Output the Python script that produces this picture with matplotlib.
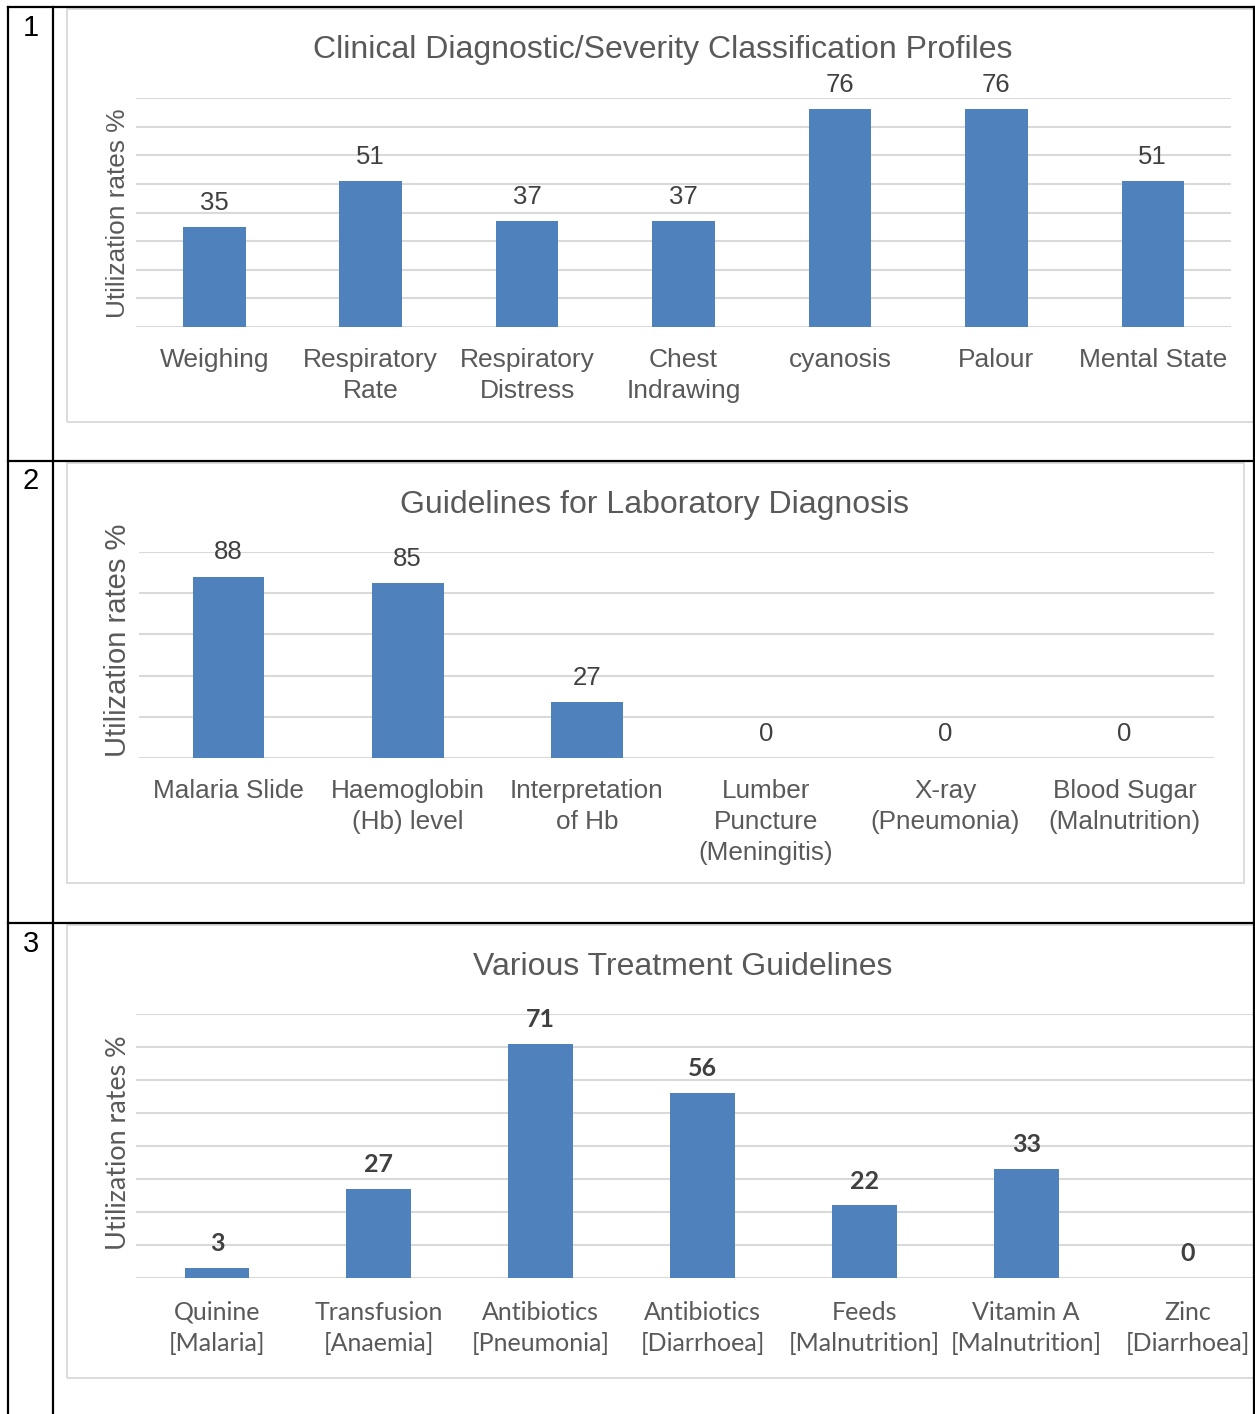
import matplotlib
matplotlib.use("Agg")
import matplotlib.pyplot as plt
from matplotlib.patches import Rectangle
from matplotlib.lines import Line2D

# --- data -------------------------------------------------------------
clinical_labels = ["Weighing", "Respiratory\nRate", "Respiratory\nDistress",
                   "Chest\nIndrawing", "cyanosis", "Palour", "Mental State"]
clinical_values = [35, 51, 37, 37, 76, 76, 51]

lab_labels = ["Malaria Slide", "Haemoglobin\n(Hb) level", "Interpretation\nof Hb",
              "Lumber\nPuncture\n(Meningitis)", "X-ray\n(Pneumonia)",
              "Blood Sugar\n(Malnutrition)"]
lab_values = [88, 85, 27, 0, 0, 0]

treat_labels = ["Quinine\n[Malaria]", "Transfusion\n[Anaemia]", "Antibiotics\n[Pneumonia]",
                "Antibiotics\n[Diarrhoea]", "Feeds\n[Malnutrition]",
                "Vitamin A\n[Malnutrition]", "Zinc\n[Diarrhoea]"]
treat_values = [3, 27, 71, 56, 22, 33, 0]

titles = ["Clinical Diagnostic/Severity Classification Profiles",
          "Guidelines for Laboratory Diagnosis",
          "Various Treatment Guidelines"]
ylabel = "Utilization rates %"

BAR = "#4F81BD"
GRID = "#D9D9D9"
TXT = "#595959"
VAL = "#404040"
ARIAL = "Liberation Sans"
CALIBRI = "Lato"

W, H = 1255, 1414
fig = plt.figure(figsize=(W / 100, H / 100), dpi=100)


def place(l, t, r, b):
    return [l / W, 1 - b / H, (r - l) / W, (b - t) / H]


def fline(x0, y0, x1, y1, **kw):
    fig.add_artist(Line2D([x0 / W, x1 / W], [1 - y0 / H, 1 - y1 / H], **kw))


def frame(l, t, r, b):
    fig.add_artist(Rectangle((l / W, 1 - b / H), (r - l) / W, (b - t) / H,
                             fill=False, edgecolor=GRID, lw=1.3, zorder=0))


def bars(box, labels, values, ymax, step, tick_font, tick_size, val_font,
         val_size, val_weight, pad, spacing):
    ax = fig.add_axes(place(*box))
    x = range(len(values))
    ax.bar(x, values, width=0.4, color=BAR, zorder=2)
    ax.set_xlim(-0.5, len(values) - 0.5)
    ax.set_ylim(0, ymax)
    ax.set_yticks(range(0, ymax + 1, step))
    ax.yaxis.grid(True, color=GRID, lw=1.5, zorder=0)
    ax.tick_params(axis="y", length=0, labelleft=False)
    ax.set_xticks(list(x))
    ax.set_xticklabels(labels, fontfamily=tick_font, fontsize=tick_size,
                       color=TXT, linespacing=spacing)
    ax.tick_params(axis="x", length=0, pad=pad)
    for s in ax.spines.values():
        s.set_visible(False)
    ax.set_facecolor("none")
    for i, v in zip(x, values):
        ax.annotate(str(v), (i, v), xytext=(0, 17.5), textcoords="offset points",
                    ha="center", va="center", fontfamily=val_font,
                    fontsize=val_size, fontweight=val_weight, color=VAL)
    return ax


# chart frames
frame(67, 9, 1262, 422)
frame(67, 463, 1244, 883)
frame(67, 925, 1300, 1378)

bars((136, 98, 1231, 327), clinical_labels, clinical_values, 80, 10,
     ARIAL, 19, ARIAL, 18.5, "normal", 15, 1.38)
bars((139, 552, 1214, 758), lab_labels, lab_values, 100, 20,
     ARIAL, 18.8, ARIAL, 18.5, "normal", 15, 1.38)
bars((136, 1014, 1269, 1278), treat_labels, treat_values, 80, 10,
     CALIBRI, 18, CALIBRI, 18, "bold", 16.5, 1.42)

# titles and axis labels
fig.text(663 / W, 1 - 50 / H, titles[0], ha="center", va="center",
         fontfamily=ARIAL, fontsize=23, color=TXT)
fig.text(655 / W, 1 - 505 / H, titles[1], ha="center", va="center",
         fontfamily=ARIAL, fontsize=23, color=TXT)
fig.text(683 / W, 1 - 967 / H, titles[2], ha="center", va="center",
         fontfamily=ARIAL, fontsize=23, color=TXT)

fig.text(118 / W, 1 - 213 / H, ylabel, rotation=90, ha="center", va="center",
         fontfamily=ARIAL, fontsize=18.9, color=TXT)
fig.text(118 / W, 1 - 640 / H, ylabel, rotation=90, ha="center", va="center",
         fontfamily=ARIAL, fontsize=21, color=TXT)
fig.text(118 / W, 1 - 1143 / H, ylabel, rotation=90, ha="center", va="center",
         fontfamily=CALIBRI, fontsize=19.4, color=TXT)

# table grid around the charts
black = dict(color="black", lw=1.6, zorder=10)
fline(8, 7, 8, H, **black)
fline(53, 7, 53, H, **black)
fline(1254, 7, 1254, H, **black)
for y in (7, 461, 923):
    fline(8, y, 1254, y, **black)

for n, y in zip(("1", "2", "3"), (28, 481, 944)):
    fig.text(31 / W, 1 - y / H, n, ha="center", va="center",
             fontfamily=ARIAL, fontsize=21, color="black")

fig.savefig("out.png", dpi=100, facecolor="white")
